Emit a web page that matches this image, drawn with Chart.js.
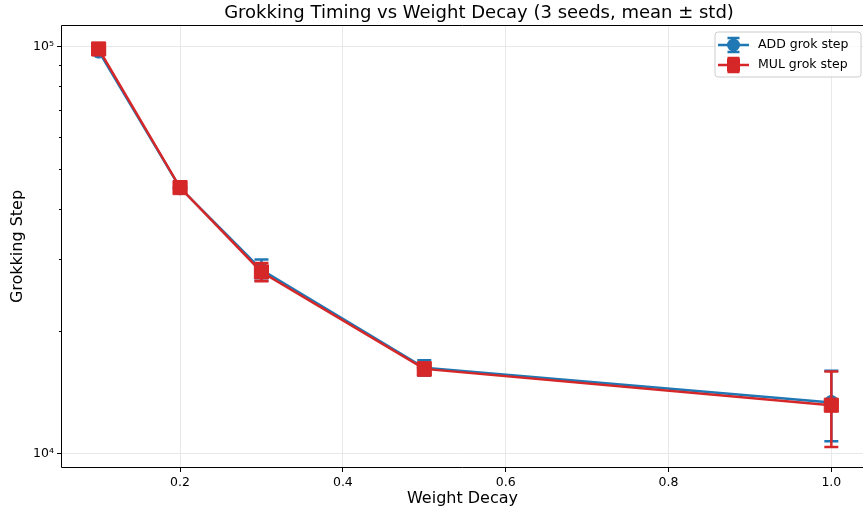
<!DOCTYPE html>
<html>
<head>
<meta charset="utf-8">
<script src="https://cdn.jsdelivr.net/npm/chart.js@4/dist/chart.umd.min.js"></script>
<style>
  html, body { margin: 0; padding: 0; background: #fff; overflow: hidden; width: 863px; height: 511px; }
  canvas { display: block; }
</style>
</head>
<body>
<canvas id="chart" width="863" height="511"></canvas>
<script>
// Weight decay settings and grokking step (mean and std over 3 seeds)
const weightDecay = [0.1, 0.2, 0.3, 0.5, 1.0];
const addMean = [97500, 45000, 28300, 16250, 13350];
const addStd  = [1800, 1000, 1700, 700, 2630];
const mulMean = [98700, 45050, 27950, 16150, 13150];
const mulStd  = [1200, 900, 1450, 600, 2770];

const xTickValues = [0.2, 0.4, 0.6, 0.8, 1.0];
const yMajorTicks = [10000, 100000];
const yMinorTicks = [20000, 30000, 40000, 50000, 60000, 70000, 80000, 90000];
const yTickLabels = { 10000: '10\u2074', 100000: '10\u2075' };

const BLUE = '#1f77b4';
const RED = '#d62728';
const FONT = "'DejaVu Sans', sans-serif";

Chart.defaults.font.family = FONT;
Chart.defaults.color = '#000';

const toPoints = (means) => weightDecay.map((x, i) => ({ x: x, y: means[i] }));

// Vertical error bars with caps, drawn underneath each series' line and markers
const errorBarPlugin = {
  id: 'errorBars',
  beforeDatasetDraw(chart, args) {
    const ds = chart.data.datasets[args.index];
    if (!ds.errors) return;
    const { ctx, scales: { x, y } } = chart;
    ctx.save();
    ctx.strokeStyle = ds.borderColor;
    ctx.lineWidth = 2.5;
    ds.data.forEach((p, i) => {
      const px = x.getPixelForValue(p.x);
      const top = y.getPixelForValue(p.y + ds.errors[i]);
      const bot = y.getPixelForValue(p.y - ds.errors[i]);
      ctx.beginPath();
      ctx.moveTo(px, top); ctx.lineTo(px, bot);
      ctx.moveTo(px - 7, top); ctx.lineTo(px + 7, top);
      ctx.moveTo(px - 7, bot); ctx.lineTo(px + 7, bot);
      ctx.stroke();
    });
    ctx.restore();
  }
};

// Frame (left, top, bottom), minor ticks, title and legend
const decorPlugin = {
  id: 'decor',
  afterDraw(chart) {
    const { ctx, chartArea: a, scales: { y } } = chart;
    ctx.save();

    // minor y ticks
    ctx.strokeStyle = '#000';
    ctx.lineWidth = 1;
    yMinorTicks.forEach(v => {
      const py = Math.round(y.getPixelForValue(v)) + 0.5;
      ctx.beginPath();
      ctx.moveTo(a.left - 3, py); ctx.lineTo(a.left, py);
      ctx.stroke();
    });

    // axes frame; the right spine falls outside the canvas
    const L = Math.round(a.left) - 0.5, T = Math.round(a.top) - 0.5, B = Math.round(a.bottom) + 0.5;
    ctx.beginPath();
    ctx.moveTo(chart.width + 2, T); ctx.lineTo(L, T); ctx.lineTo(L, B); ctx.lineTo(chart.width + 2, B);
    ctx.stroke();

    // title
    ctx.fillStyle = '#000';
    ctx.font = '18px ' + FONT;
    ctx.textAlign = 'center';
    ctx.textBaseline = 'middle';
    ctx.fillText('Grokking Timing vs Weight Decay (3 seeds, mean \u00b1 std)', 479, 13);

    // legend box
    const bx = 715, by = 32, bw = 146, bh = 45, r = 3;
    ctx.beginPath();
    ctx.moveTo(bx + r, by);
    ctx.arcTo(bx + bw, by, bx + bw, by + bh, r);
    ctx.arcTo(bx + bw, by + bh, bx, by + bh, r);
    ctx.arcTo(bx, by + bh, bx, by, r);
    ctx.arcTo(bx, by, bx + bw, by, r);
    ctx.closePath();
    ctx.fillStyle = 'rgba(255,255,255,0.8)';
    ctx.fill();
    ctx.strokeStyle = '#cccccc';
    ctx.lineWidth = 1;
    ctx.stroke();

    const entries = [
      { label: 'ADD grok step', color: BLUE, shape: 'circle', y: 45 },
      { label: 'MUL grok step', color: RED, shape: 'square', y: 65 }
    ];
    entries.forEach(e => {
      const cx = 733.5;
      ctx.strokeStyle = e.color;
      ctx.fillStyle = e.color;
      ctx.lineWidth = 2.5;
      ctx.beginPath();
      ctx.moveTo(718, e.y); ctx.lineTo(749, e.y);
      ctx.moveTo(cx, e.y - 7); ctx.lineTo(cx, e.y + 7);
      ctx.moveTo(cx - 6, e.y - 7); ctx.lineTo(cx + 6, e.y - 7);
      ctx.moveTo(cx - 6, e.y + 7); ctx.lineTo(cx + 6, e.y + 7);
      ctx.stroke();
      ctx.beginPath();
      if (e.shape === 'circle') {
        ctx.arc(cx, e.y, 6.5, 0, Math.PI * 2);
      } else {
        ctx.rect(cx - 6.5, e.y - 6.5, 13, 13);
      }
      ctx.fill();
      ctx.fillStyle = '#000';
      ctx.font = '12.5px ' + FONT;
      ctx.textAlign = 'left';
      ctx.textBaseline = 'middle';
      ctx.fillText(e.label, 758, e.y);
    });

    ctx.restore();
  }
};

new Chart(document.getElementById('chart'), {
  type: 'line',
  data: {
    datasets: [
      {
        label: 'ADD grok step',
        data: toPoints(addMean),
        errors: addStd,
        borderColor: BLUE,
        backgroundColor: BLUE,
        borderWidth: 2.5,
        pointStyle: 'circle',
        pointRadius: 7,
        pointBorderWidth: 1,
        pointBorderColor: BLUE,
        pointBackgroundColor: BLUE,
        tension: 0,
        clip: false,
        order: 2
      },
      {
        label: 'MUL grok step',
        data: toPoints(mulMean),
        errors: mulStd,
        borderColor: RED,
        backgroundColor: RED,
        borderWidth: 2.5,
        pointStyle: 'rect',
        pointRadius: 10,
        pointBorderWidth: 1,
        pointBorderColor: RED,
        pointBackgroundColor: RED,
        tension: 0,
        clip: false,
        order: 1
      }
    ]
  },
  options: {
    responsive: false,
    animation: false,
    events: [],
    layout: { autoPadding: false, padding: { top: 26, right: 0, left: 0, bottom: 0 } },
    plugins: {
      legend: { display: false },
      title: { display: false },
      tooltip: { enabled: false }
    },
    scales: {
      x: {
        type: 'linear',
        min: 0.055,
        max: 1.0389,
        afterBuildTicks: s => { s.ticks = xTickValues.map(v => ({ value: v })); },
        afterFit: s => { s.height = 44; s.paddingLeft = 0; s.paddingRight = 0; },
        ticks: {
          autoSkip: false,
          maxRotation: 0,
          padding: 3,
          color: '#000',
          font: { size: 12.5 },
          callback: v => Number(v).toFixed(1)
        },
        grid: { color: '#e8e8e8', lineWidth: 1, tickColor: '#000', tickLength: 5 },
        border: { display: false },
        title: {
          display: true,
          text: 'Weight Decay',
          color: '#000',
          font: { size: 16 },
          padding: { top: 0, bottom: 3 }
        }
      },
      y: {
        type: 'logarithmic',
        min: 9270,
        max: 112400,
        afterBuildTicks: s => {
          s.ticks = [...yMajorTicks, ...yMinorTicks].sort((p, q) => p - q).map(v => ({ value: v }));
        },
        afterFit: s => { s.width = 62; s.paddingTop = 0; s.paddingBottom = 0; },
        ticks: {
          autoSkip: false,
          padding: 3,
          color: '#000',
          font: { size: 12.5 },
          callback: v => yTickLabels[v] || ''
        },
        grid: {
          color: c => (c.tick && yMajorTicks.includes(c.tick.value)) ? '#e8e8e8' : 'rgba(0,0,0,0)',
          tickColor: c => (c.tick && yMajorTicks.includes(c.tick.value)) ? '#000' : 'rgba(0,0,0,0)',
          lineWidth: 1,
          tickLength: 5
        },
        border: { display: false },
        title: {
          display: true,
          text: 'Grokking Step',
          color: '#000',
          font: { size: 16 },
          padding: { top: 8, bottom: 0 }
        }
      }
    }
  },
  plugins: [errorBarPlugin, decorPlugin]
});
</script>
</body>
</html>
